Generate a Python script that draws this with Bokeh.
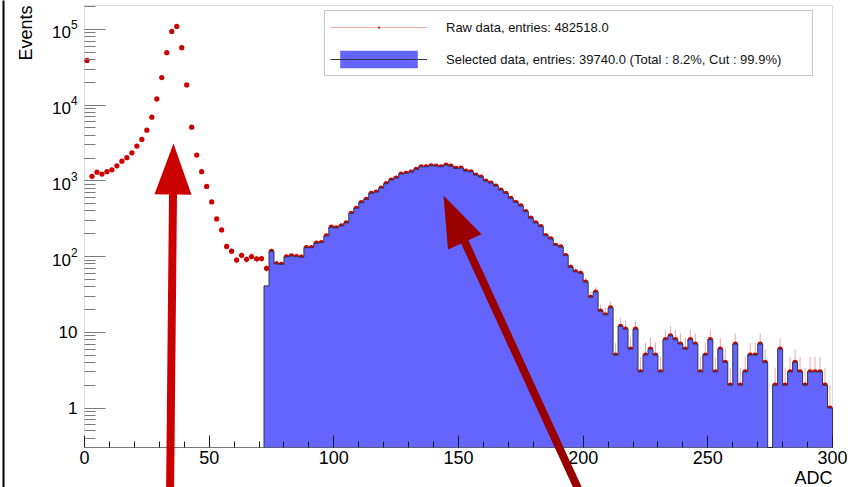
import math
from bokeh.plotting import figure
from bokeh.models import (Range1d, FixedTicker, Legend, LegendItem, Label,
                          PolyAnnotation, BoxAnnotation, ColumnDataSource)
from bokeh.embed import file_html
from bokeh.resources import INLINE

# ---------------- data ----------------
bin_width = 2.0
n_bins = 150
x_min, x_max = 0.0, 300.0
y_min, y_max = 0.301, 2.07e5

raw_counts = [
    39000, 1150, 1300, 1230, 1320, 1400, 1580, 1820, 2020, 2350,
    2880, 3520, 4670, 6930, 12100, 23100, 49200, 94100, 109600, 57400,
    18500, 5120, 2190, 1320, 845, 526, 314, 225, 136, 118,
    90, 104, 92, 100, 93, 94, 70, 117, 80, 79,
    99, 102, 100, 98, 131, 131, 150, 153, 187, 244,
    239, 254, 278, 373, 434, 515, 570, 684, 712, 804,
    917, 1025, 1089, 1230, 1256, 1306, 1416, 1535, 1535, 1583,
    1567, 1535, 1616, 1560, 1461, 1475, 1346, 1318, 1192, 1122,
    994, 935, 854, 756, 684, 588, 520, 466, 392, 321,
    278, 249, 189, 171, 141, 134, 103, 72, 63, 60,
    46, 29, 34, 19, 17, 21, 5, 12, 11, 6,
    11, 3, 5, 6, 5, 3, 8, 9, 8, 7,
    6, 8, 7, 3, 5, 8, 3, 6, 4, 2,
    7, 2, 3, 5, 5, 7, 4, 0, 2, 6,
    2, 3, 4, 3, 2, 3, 3, 3, 2, 1,
]

sel_start_bin = 36
sel_counts = [
    41, 117, 80, 79,
    99, 102, 100, 98, 131, 131, 150, 153, 187, 244,
    239, 254, 278, 373, 434, 515, 570, 684, 712, 804,
    917, 1025, 1089, 1230, 1256, 1306, 1416, 1535, 1535, 1583,
    1567, 1535, 1616, 1560, 1461, 1475, 1346, 1318, 1192, 1122,
    994, 935, 854, 756, 684, 588, 520, 466, 392, 321,
    278, 249, 189, 171, 141, 134, 103, 72, 63, 60,
    46, 29, 34, 19, 17, 21, 5, 12, 11, 6,
    11, 3, 5, 6, 5, 3, 8, 9, 8, 7,
    6, 8, 7, 3, 5, 8, 3, 6, 4, 2,
    7, 2, 3, 5, 5, 7, 4, 0, 2, 6,
    2, 3, 4, 3, 2, 3, 3, 3, 2, 1,
]

raw_label = "Raw data, entries: 482518.0"
sel_label = "Selected data, entries: 39740.0 (Total : 8.2%, Cut : 99.9%)"
x_title = "ADC"
y_title = "Events"

x_ticks = [0, 50, 100, 150, 200, 250, 300]
y_ticks = [1, 10, 100, 1000, 10000, 100000]
y_tick_overrides = {1: "1", 10: "10"}

# ---------------- layout (pixels of the 866x487 canvas) ----------------
W, H = 866, 487
frame_left, frame_right, frame_top, frame_bottom = 84, 832, 5, 447
FONT = "Liberation Sans"

def px_to_x(px):
    return x_min + (px - frame_left) / (frame_right - frame_left) * (x_max - x_min)

def py_to_y(py):
    l0, l1 = math.log10(y_min), math.log10(y_max)
    return 10 ** (l1 - (py - frame_top) / (frame_bottom - frame_top) * (l1 - l0))

# the plotting area covers the whole canvas; the axes are pinned to the
# histogram box with fixed_location so that annotations may cross them
p = figure(width=W, height=H, output_backend="svg", toolbar_location=None,
           x_range=Range1d(px_to_x(0), px_to_x(W)),
           y_range=Range1d(py_to_y(H), py_to_y(0)),
           y_axis_type="log",
           min_border_left=0, min_border_right=0,
           min_border_top=0, min_border_bottom=0)
p.background_fill_color = "white"
p.border_fill_color = "white"
p.outline_line_color = None
p.xgrid.visible = False
p.ygrid.visible = False

# x axis
xa = p.xaxis[0]
xa.fixed_location = y_min
xa.ticker = FixedTicker(ticks=x_ticks,
                        minor_ticks=[v for v in range(0, 301, 10) if v % 50])
xa.axis_line_color = None
xa.major_tick_line_color = "#1a1a1a"
xa.minor_tick_line_color = "#1a1a1a"
xa.major_tick_in = 12
xa.major_tick_out = 0
xa.minor_tick_in = 6
xa.minor_tick_out = 0
xa.major_label_standoff = 3
xa.major_label_text_font = FONT
xa.major_label_text_font_size = "18px"
xa.major_label_text_color = "black"

# y axis
ya = p.yaxis[0]
ya.fixed_location = x_min
ya.ticker = FixedTicker(ticks=y_ticks,
                        minor_ticks=[m * 10.0 ** k for k in range(-1, 6) for m in range(2, 10)
                                     if y_min <= m * 10.0 ** k <= y_max])
ya.major_label_overrides = y_tick_overrides
ya.axis_line_color = None
ya.major_tick_line_color = "#7a7a7a"
ya.minor_tick_line_color = "#7a7a7a"
ya.major_tick_in = 21
ya.major_tick_out = 0
ya.minor_tick_in = 11
ya.minor_tick_out = 0
ya.major_label_standoff = 7
ya.major_label_text_font = FONT
ya.major_label_text_font_size = "17px"
ya.major_label_text_color = "black"

# histogram box (frame) of the ROOT pad
p.add_layout(BoxAnnotation(left=x_min, right=x_max, bottom=y_min, top=y_max,
                           fill_alpha=0, line_color="#8c8c8c", line_width=1,
                           level="underlay"))

# ---------------- raw data: points with sqrt(N) error bars ----------------
centers = [x_min + (i + 0.5) * bin_width for i in range(n_bins)]
rx, ry, ry0, ry1 = [], [], [], []
for c, v in zip(centers, raw_counts):
    if v > 0:
        e = math.sqrt(v)
        rx.append(c); ry.append(v)
        ry0.append(max(v - e, y_min)); ry1.append(min(v + e, y_max))
raw_src = ColumnDataSource(dict(x=rx, y=ry, y0=ry0, y1=ry1))
err_r = p.segment(x0="x", y0="y0", x1="x", y1="y1", source=raw_src,
                  line_color="#f0a8a8", line_width=1)
pts_r = p.scatter(x="x", y="y", source=raw_src, marker="dot", size=21,
                  line_color="#cc0000", fill_color="#cc0000")

# ---------------- selected data: filled step histogram ----------------
sx, sy = [], []
sx.append(x_min + sel_start_bin * bin_width); sy.append(y_min)
for k, v in enumerate(sel_counts):
    lo = x_min + (sel_start_bin + k) * bin_width
    hi = lo + bin_width
    vv = v if v > 0 else y_min
    sx += [lo, hi]; sy += [vv, vv]
sx.append(sx[-1]); sy.append(y_min)
patch_r = p.patch(sx, sy, fill_color="#6464ff", fill_alpha=1.0, line_alpha=0)
outline_r = p.line(sx, sy, line_color="#33334d", line_width=1)

# bottom edge of the box (x axis line)
p.add_layout(BoxAnnotation(left=x_min, right=x_max, bottom=y_min, top=y_min,
                           fill_alpha=0, line_color="#1a1a1a", line_width=1))

# ---------------- legend ----------------
legend = Legend(items=[LegendItem(label=raw_label, renderers=[err_r, pts_r]),
                       LegendItem(label=sel_label, renderers=[patch_r, outline_r])],
                location=(324, H - 76), orientation="vertical",
                padding=5, spacing=10, margin=0,
                glyph_width=97, glyph_height=22, label_standoff=19,
                label_width=361, label_height=16,
                label_text_font=FONT, label_text_font_size="13px",
                label_text_color="#111111",
                border_line_color="#8c8c8c", border_line_width=1,
                background_fill_color="white", background_fill_alpha=1.0)
p.add_layout(legend)

# ---------------- titles ----------------
p.add_layout(Label(x=px_to_x(25), y=py_to_y(5), text=y_title, angle=math.pi / 2,
                   text_align="right", text_baseline="alphabetic",
                   text_font=FONT, text_font_size="18px", text_color="black"))
p.add_layout(Label(x=x_max, y=py_to_y(477), text=x_title,
                   text_align="right", text_baseline="alphabetic",
                   text_font=FONT, text_font_size="18px", text_color="black"))

# ---------------- arrows (annotations) ----------------
def arrow_polygon(tail, tip, shaft_w=8.0, head_len=51.0, head_w=37.0):
    (x0, y0), (x1, y1) = tail, tip
    dx, dy = x1 - x0, y1 - y0
    L = math.hypot(dx, dy)
    ux, uy = dx / L, dy / L
    nx, ny = -uy, ux
    bx, by = x1 - ux * head_len, y1 - uy * head_len
    pts = [(x0 + nx * shaft_w / 2, y0 + ny * shaft_w / 2),
           (bx + nx * shaft_w / 2, by + ny * shaft_w / 2),
           (bx + nx * head_w / 2, by + ny * head_w / 2),
           (x1, y1),
           (bx - nx * head_w / 2, by - ny * head_w / 2),
           (bx - nx * shaft_w / 2, by - ny * shaft_w / 2),
           (x0 - nx * shaft_w / 2, y0 - ny * shaft_w / 2)]
    return [px_to_x(a) for a, _ in pts], [py_to_y(b) for _, b in pts]

for tail, tip, col in [((169.5, 500.0), (173.0, 143.0), "#cc0000"),
                       ((583.0, 500.0), (443.0, 195.0), "#990000")]:
    axs, ays = arrow_polygon(tail, tip)
    p.add_layout(PolyAnnotation(xs=axs, ys=ays, xs_units="data", ys_units="data",
                                fill_color=col, fill_alpha=1.0, line_color=None))

# window border line on the left
p.add_layout(BoxAnnotation(left=px_to_x(2), right=px_to_x(4),
                           bottom=py_to_y(H + 5), top=py_to_y(-5),
                           fill_color="black", fill_alpha=1.0, line_color=None))

open("out.html", "w").write(file_html(p, INLINE))
